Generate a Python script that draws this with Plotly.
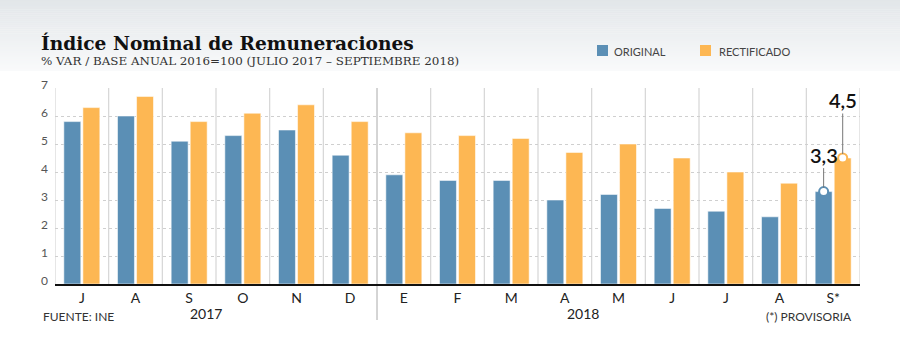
import plotly.graph_objects as go

months = ["J", "A", "S", "O", "N", "D", "E", "F", "M", "A", "M", "J", "J", "A", "S*"]
original = [5.8, 6.0, 5.1, 5.3, 5.5, 4.6, 3.9, 3.7, 3.7, 3.0, 3.2, 2.7, 2.6, 2.4, 3.3]
rectificado = [6.3, 6.7, 5.8, 6.1, 6.4, 5.8, 5.4, 5.3, 5.2, 4.7, 5.0, 4.5, 4.0, 3.6, 4.5]
years = ["2017", "2018"]
year_pos = [2.31, 9.34]
year_split = 5.5
label_texts = ["3,3", "4,5"]

BLUE = "#5b8fb5"
ORANGE = "#fdb753"
BARGAP = 0.29
GROUPGAP = 0.11

x = list(range(len(months)))

fig = go.Figure()
fig.add_trace(go.Bar(x=x, y=original, name="ORIGINAL", marker=dict(color=BLUE, line=dict(color="rgba(255,255,255,0.55)", width=1))))
fig.add_trace(go.Bar(x=x, y=rectificado, name="RECTIFICADO", marker=dict(color=ORANGE, line=dict(color="rgba(255,255,255,0.55)", width=1))))

# highlight last values
slot = (1 - BARGAP) / 2
last = len(months) - 1
px_ = [last - slot / 2, last + slot / 2]
py_ = [original[-1], rectificado[-1]]
for xx, yy, col, txt, ay in zip(px_, py_, [BLUE, ORANGE], label_texts, [-37, -58]):
    fig.add_annotation(x=xx, y=yy, xref="x", yref="y", text=txt, showarrow=True,
                       ax=0, ay=ay, arrowhead=0, arrowwidth=1, arrowcolor="#777",
                       standoff=4, font=dict(family="Lato", size=20, color="#111", weight=600))
    fig.add_trace(go.Scatter(x=[xx], y=[yy], mode="markers", showlegend=False,
                             marker=dict(size=9, color="white", line=dict(color=col, width=2)),
                             cliponaxis=False))

shapes = []
# background gradient at top
N = 36
H = 71
c0 = (0xe2, 0xe6, 0xe9)
c1 = (0xf9, 0xfa, 0xfb)
for i in range(N):
    t = i / (N - 1)
    c = tuple(round(a + (b - a) * t) for a, b in zip(c0, c1))
    ytop = (284 - i * H / N) / 196
    ybot = (284 - (i + 1) * H / N) / 196
    shapes.append(dict(type="rect", xref="paper", yref="paper", x0=-55 / 805, x1=845 / 805,
                       y0=ybot, y1=ytop + 0.002, fillcolor="rgb(%d,%d,%d)" % c,
                       line=dict(width=0), layer="below"))

# category boundaries
for i in range(len(months) + 1):
    b = i - 0.5
    if b == year_split:
        shapes.append(dict(type="line", xref="x", yref="paper", x0=b, x1=b, y0=-36 / 196, y1=1,
                           line=dict(color="#aaaaaa", width=1), layer="below"))
    else:
        shapes.append(dict(type="line", xref="x", yref="y", x0=b, x1=b, y0=0, y1=7,
                           line=dict(color="#d6d6d6", width=1.2), layer="below"))

# legend squares
shapes.append(dict(type="rect", xref="paper", yref="paper", x0=(597 - 55) / 805, x1=(608 - 55) / 805,
                   y0=(284 - 56) / 196, y1=(284 - 45) / 196, fillcolor=BLUE, line=dict(width=0)))
shapes.append(dict(type="rect", xref="paper", yref="paper", x0=(700 - 55) / 805, x1=(711 - 55) / 805,
                   y0=(284 - 56) / 196, y1=(284 - 45) / 196, fillcolor=ORANGE, line=dict(width=0)))

annotations = [
    dict(text="<b>Índice Nominal de Remuneraciones</b>", xref="paper", yref="paper",
         x=(39 - 55) / 805, y=(284 - 43) / 196, xanchor="left", yanchor="middle", showarrow=False,
         font=dict(family="DejaVu Serif", size=18.6, color="#111")),
    dict(text="% VAR / BASE ANUAL 2016=100 (JULIO 2017 – SEPTIEMBRE 2018)", xref="paper", yref="paper",
         x=(39 - 55) / 805, y=(284 - 61) / 196, xanchor="left", yanchor="middle", showarrow=False,
         font=dict(family="DejaVu Serif", size=11.9, color="#333")),
    dict(text="ORIGINAL", xref="paper", yref="paper", x=(612 - 55) / 805, y=(284 - 51) / 196,
         xanchor="left", yanchor="middle", showarrow=False, font=dict(family="Lato", size=11, color="#444")),
    dict(text="RECTIFICADO", xref="paper", yref="paper", x=(717 - 55) / 805, y=(284 - 51) / 196,
         xanchor="left", yanchor="middle", showarrow=False, font=dict(family="Lato", size=11, color="#444")),
    dict(text="FUENTE: INE", xref="paper", yref="paper", x=(41 - 55) / 805, y=(284 - 316) / 196,
         xanchor="left", yanchor="middle", showarrow=False, font=dict(family="Lato", size=12, color="#333")),
    dict(text="(*) PROVISORIA", xref="paper", yref="paper", x=(854 - 55) / 805, y=(284 - 316) / 196,
         xanchor="right", yanchor="middle", showarrow=False, font=dict(family="Lato", size=12, color="#333")),
]
for yr, pos in zip(years, year_pos):
    annotations.append(dict(text=yr, xref="x", yref="paper", x=pos, y=(284 - 313) / 196,
                            xanchor="center", yanchor="middle", showarrow=False,
                            font=dict(family="Lato", size=14, color="#222")))
for a in annotations:
    fig.add_annotation(**a)

fig.update_layout(
    width=900, height=346,
    margin=dict(l=55, r=40, t=88, b=62),
    paper_bgcolor="white", plot_bgcolor="rgba(0,0,0,0)",
    barmode="group", bargap=BARGAP, bargroupgap=GROUPGAP,
    showlegend=False, shapes=shapes,
    xaxis=dict(range=[-0.5, len(months) - 0.5], tickmode="array", tickvals=x, ticktext=months,
               showgrid=False, zeroline=False, showline=True, linecolor="#111", linewidth=2,
               ticks="", ticklabelstandoff=0, tickfont=dict(family="Lato", size=14, color="#222")),
    yaxis=dict(range=[0, 7], dtick=1, showgrid=True, gridcolor="#cfcfcf", griddash="3px,3px",
               gridwidth=1, zeroline=False, showline=False, ticks="", ticklabelstandoff=6,
               ticklabelshift=-3, tickfont=dict(family="Lato", size=12, color="#555")),
)

fig.write_html("out.html")
